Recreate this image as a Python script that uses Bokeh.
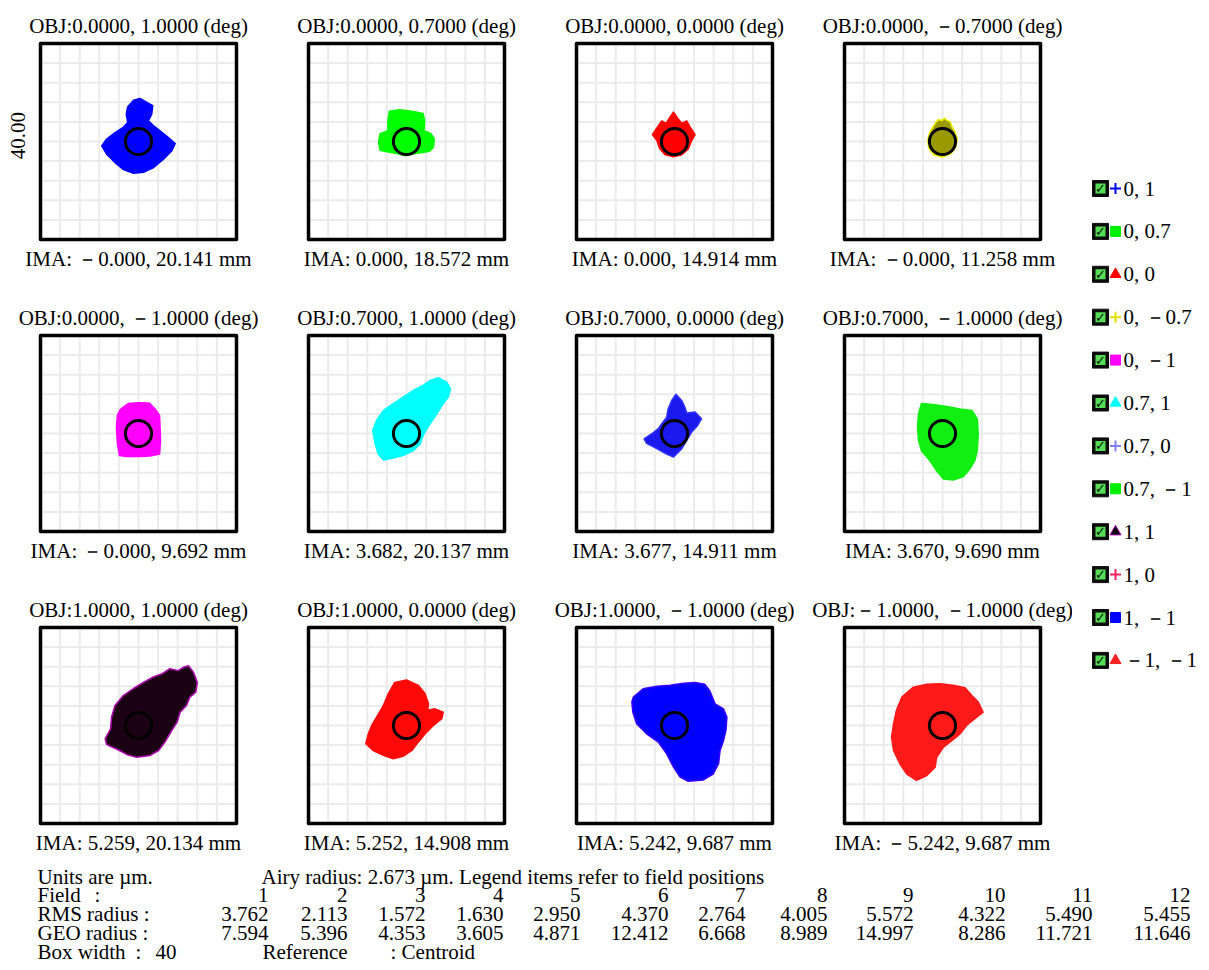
import math
from bokeh.plotting import figure
from bokeh.layouts import row, column
from bokeh.models import Range1d
from bokeh.core.properties import value
from bokeh.embed import file_html
from bokeh.resources import INLINE

# ---------------- data ----------------
field_names = ["0, 1", "0, 0.7", "0, 0", "0, －0.7", "0, －1", "0.7, 1",
               "0.7, 0", "0.7, －1", "1, 1", "1, 0", "1, －1", "－1, －1"]
obj_titles = ["OBJ:0.0000, 1.0000 (deg)", "OBJ:0.0000, 0.7000 (deg)",
              "OBJ:0.0000, 0.0000 (deg)", "OBJ:0.0000, －0.7000 (deg)",
              "OBJ:0.0000, －1.0000 (deg)", "OBJ:0.7000, 1.0000 (deg)",
              "OBJ:0.7000, 0.0000 (deg)", "OBJ:0.7000, －1.0000 (deg)",
              "OBJ:1.0000, 1.0000 (deg)", "OBJ:1.0000, 0.0000 (deg)",
              "OBJ:1.0000, －1.0000 (deg)", "OBJ:－1.0000, －1.0000 (deg)"]
ima_labels = ["IMA: －0.000, 20.141 mm", "IMA: 0.000, 18.572 mm",
              "IMA: 0.000, 14.914 mm", "IMA: －0.000, 11.258 mm",
              "IMA: －0.000, 9.692 mm", "IMA: 3.682, 20.137 mm",
              "IMA: 3.677, 14.911 mm", "IMA: 3.670, 9.690 mm",
              "IMA: 5.259, 20.134 mm", "IMA: 5.252, 14.908 mm",
              "IMA: 5.242, 9.687 mm", "IMA: －5.242, 9.687 mm"]
rms_radius = [3.762, 2.113, 1.572, 1.630, 2.950, 4.370, 2.764, 4.005, 5.572, 4.322, 5.490, 5.455]
geo_radius = [7.594, 5.396, 4.353, 3.605, 4.871, 12.412, 6.668, 8.989, 14.997, 8.286, 11.721, 11.646]
airy_radius = 2.673
box_width = 40

# spot outlines (um, relative to centroid)
spot1_x = [-1.0, 0.3, 1.7, 2.9, 2.7, 2.0, 3.1, 4.4, 6.1, 7.5, 6.8, 5.1, 3.1, 1.0, -1.0, -3.1, -4.8, -6.5, -7.5, -6.5, -4.8, -3.1, -2.2, -2.5, -2.2]
spot1_y = [8.4, 8.8, 8.0, 7.3, 5.6, 4.2, 3.2, 2.2, 0.8, -0.4, -1.9, -3.6, -5.3, -6.3, -6.5, -5.7, -4.3, -2.6, -0.9, 0.5, 1.8, 2.9, 3.9, 5.6, 7.1]
spot2_x = [-3.5, -1.5, 0.4, 1.9, 3.4, 3.7, 3.6, 5.0, 5.7, 5.5, 4.7, 3.0, 1.3, -0.1, -1.8, -3.5, -5.4, -5.7, -5.4, -3.8, -3.8]
spot2_y = [6.2, 6.5, 6.3, 6.0, 5.7, 4.3, 2.2, 1.6, 0.5, -1.2, -2.0, -2.3, -2.5, -2.9, -2.5, -2.2, -1.8, -0.1, 1.6, 2.2, 4.3]
spot3_x = [-0.2, 0.6, 1.5, 2.5, 3.2, 4.2, 3.5, 2.8, 1.5, -0.2, -1.9, -3.0, -3.6, -4.5, -3.5, -2.6, -1.7, -0.9]
spot3_y = [6.0, 4.8, 3.7, 4.2, 2.9, 1.4, 0.2, -1.5, -2.7, -3.1, -2.7, -1.5, 0.2, 1.4, 2.9, 4.2, 3.7, 5.0]
spot4_x = [-1.3, -0.8, -0.1, 0.4, 0.9, 1.6, 1.9, 2.6, 3.0, 2.7, 1.7, 0.0, -1.8, -2.8, -3.0, -2.6, -1.9]
spot4_y = [4.0, 4.5, 4.3, 4.8, 4.3, 4.0, 3.1, 1.9, 0.5, -1.2, -2.5, -3.2, -2.7, -1.4, 0.2, 1.9, 3.1]
spot5_x = [-3.1, -2.1, 0.0, 2.2, 3.4, 4.3, 4.4, 4.5, 4.3, 2.4, 0.0, -2.4, -3.9, -4.3, -4.5, -4.3, -3.8]
spot5_y = [5.4, 6.1, 6.3, 6.2, 5.0, 3.7, 1.3, -1.4, -4.2, -4.6, -4.7, -4.7, -4.5, -2.1, 1.3, 3.7, 4.8]
spot6_x = [6.5, 8.2, 9.0, 8.5, 7.5, 6.2, 4.8, 3.4, 2.8, 1.4, -0.7, -2.7, -4.7, -5.8, -6.4, -6.9, -6.1, -4.7, -2.7, -0.7, 1.4, 3.4, 4.8]
spot6_y = [11.4, 10.5, 9.1, 7.4, 6.1, 4.0, 2.0, -0.4, -2.1, -3.5, -4.5, -5.0, -5.4, -4.2, -2.1, 0.6, 2.7, 4.7, 6.1, 7.4, 8.8, 9.8, 10.8]
spot7_x = [0.3, 1.5, 2.1, 2.5, 4.2, 5.5, 4.7, 3.5, 2.5, 1.5, -0.2, -1.6, -3.6, -5.7, -6.2, -4.7, -3.3, -2.6, -1.6, -1.3, -0.6]
spot7_y = [8.0, 6.7, 5.4, 4.2, 4.4, 3.0, 1.6, 0.3, -1.4, -3.1, -4.8, -4.2, -3.1, -2.0, -1.1, -0.1, 1.0, 2.0, 3.3, 5.0, 6.7]
spot8_x = [-4.3, -1.9, 0.9, 3.6, 6.0, 7.1, 7.3, 7.1, 6.6, 5.6, 4.3, 2.2, 0.2, -1.2, -2.6, -4.3, -4.9, -5.1, -4.9]
spot8_y = [6.1, 5.9, 5.5, 5.0, 4.7, 3.0, -0.1, -3.5, -5.5, -7.2, -8.8, -9.5, -9.3, -7.6, -5.5, -3.5, -1.4, 1.3, 4.0]
spot9_x = [10.2, 11.2, 12.0, 11.7, 10.5, 9.8, 8.5, 7.9, 6.8, 5.4, 4.1, 2.4, -0.4, -2.4, -4.5, -6.5, -6.8, -5.7, -5.5, -4.8, -3.1, -1.1, 1.0, 3.0, 4.7, 6.4, 8.1, 9.2]
spot9_y = [12.2, 10.9, 8.8, 6.8, 5.8, 4.1, 2.7, 0.7, -1.0, -3.4, -5.1, -6.1, -6.5, -5.9, -4.8, -3.9, -2.7, -0.7, 1.7, 4.1, 6.1, 7.5, 8.8, 9.9, 10.5, 11.6, 11.2, 11.9]
spot10_x = [-2.4, 0.0, 2.4, 3.8, 4.5, 4.3, 5.8, 7.5, 7.2, 5.5, 3.8, 2.4, 1.1, -0.7, -2.7, -4.7, -6.8, -8.3, -7.8, -7.1, -6.1, -4.7, -3.7]
spot10_y = [8.8, 9.3, 8.2, 6.5, 4.4, 3.1, 3.4, 2.7, 1.4, 0.0, -1.7, -3.4, -5.1, -6.3, -6.8, -6.1, -5.1, -3.7, -1.7, 0.0, 1.7, 4.1, 6.5]
spot11_x = [-8.4, -6.4, -3.6, -0.9, 1.8, 4.2, 6.2, 7.2, 8.3, 10.0, 10.7, 10.5, 10.0, 9.3, 9.0, 7.9, 5.9, 2.8, 1.1, -0.2, -1.6, -3.3, -5.7, -7.7, -8.5, -8.7]
spot11_y = [5.8, 7.5, 8.0, 8.2, 8.6, 8.8, 8.4, 7.1, 4.4, 3.4, 1.7, -1.0, -3.1, -5.1, -7.8, -9.9, -11.1, -11.4, -10.5, -8.5, -5.8, -3.4, -1.7, 0.3, 2.7, 4.8]
spot12_x = [-6.0, -3.2, -0.5, 2.2, 4.6, 6.0, 7.3, 8.3, 6.6, 4.9, 3.6, 1.9, 0.2, -1.2, -1.5, -3.2, -5.3, -7.3, -8.7, -10.0, -10.4, -10.0, -9.4, -8.3]
spot12_y = [7.8, 8.4, 8.5, 8.2, 7.7, 6.1, 4.8, 2.7, 1.4, 0.0, -1.7, -3.1, -4.4, -6.5, -8.5, -10.2, -11.2, -9.9, -7.8, -5.1, -2.4, 0.3, 3.1, 5.8]

spots_x = [spot1_x, spot2_x, spot3_x, spot4_x, spot5_x, spot6_x,
           spot7_x, spot8_x, spot9_x, spot10_x, spot11_x, spot12_x]
spots_y = [spot1_y, spot2_y, spot3_y, spot4_y, spot5_y, spot6_y,
           spot7_y, spot8_y, spot9_y, spot10_y, spot11_y, spot12_y]

spot_fill = ["#0000ff", "#00ff00", "#ff0000", "#9a9a00", "#ff00ff", "#00ffff",
             "#1a1aee", "#11ee11", "#1c0014", "#ff0808", "#0000ff", "#ff1a1a"]
spot_edge = ["#0000ff", "#00ff00", "#ff0000", "#f0f000", "#ff00ff", "#00ffff",
             "#3030ff", "#11ee11", "#b000b0", "#ff0808", "#3a00ff", "#ff1a1a"]
legend_marker = ["cross", "square", "triangle", "cross", "square", "triangle",
                 "cross", "square", "triangle", "cross", "square", "triangle"]
legend_color = ["#0000ff", "#00ee00", "#ff0000", "#e0e000", "#ff00ff", "#00ffff",
                "#8080ff", "#00ee00", "#000000", "#ff2060", "#0000ff", "#ff2020"]
legend_edge = ["#0000ff", "#00ee00", "#ff0000", "#e0e000", "#ff00ff", "#00ffff",
               "#8080ff", "#00ee00", "#b000b0", "#ff2060", "#0000ff", "#ff2020"]

SERIF = "Liberation Serif"
FS = "21px"
PX = 196 / box_width          # pixels per micron inside a box
HB = box_width / 2

# ---------------- panels ----------------
grid_ticks = [-HB + k * box_width / 10 for k in range(1, 10)]
ng = len(grid_ticks)
PW = 268
LEFT, RIGHT_, TOP = 40, 32, 43
rows = []
for r in range(3):
    h = 292 if r < 2 else 282
    bottom = h - TOP - 196
    figs = []
    for c in range(4):
        i = r * 4 + c
        p = figure(width=PW, height=h,
                   x_range=Range1d(-HB - LEFT / PX, HB + RIGHT_ / PX),
                   y_range=Range1d(-HB - bottom / PX, HB + TOP / PX),
                   output_backend="svg", toolbar_location=None, tools="", title=None,
                   x_axis_location=None, y_axis_location=None,
                   min_border_left=0, min_border_right=0,
                   min_border_top=0, min_border_bottom=0)
        p.grid.visible = False
        p.outline_line_color = None
        p.background_fill_color = "white"
        p.border_fill_color = "white"
        # grid inside the box
        p.segment(x0=grid_ticks, y0=[-HB] * ng, x1=grid_ticks, y1=[HB] * ng,
                  line_color="#ebebeb", line_width=2)
        p.segment(x0=[-HB] * ng, y0=grid_ticks, x1=[HB] * ng, y1=grid_ticks,
                  line_color="#ebebeb", line_width=2)
        p.patch(x=spots_x[i], y=spots_y[i], fill_color=spot_fill[i],
                line_color=spot_edge[i], line_width=1.5, line_join="round")
        p.circle(x=[0], y=[0], radius=airy_radius, fill_color=None,
                 line_color="black", line_width=3)
        p.rect(x=[0], y=[0], width=[box_width], height=[box_width], fill_color=None,
               line_color="black", line_width=3.5, line_join="round")
        p.text(x=[0], y=[HB + 18 / PX], text=[obj_titles[i]], text_font=value(SERIF),
               text_font_size=FS, text_align="center", text_baseline="alphabetic",
               text_color="black")
        p.text(x=[0], y=[-HB - 19 / PX], text=[ima_labels[i]], text_font=value(SERIF),
               text_font_size=FS, text_align="center", text_baseline="alphabetic",
               text_color="black")
        if i == 0:
            p.text(x=[-HB - 22.5 / PX], y=[6 / PX], text=[f"{box_width:.2f}"],
                   angle=math.pi / 2, text_font=value(SERIF), text_font_size=FS,
                   text_align="center", text_baseline="middle", text_color="black")
        figs.append(p)
    rows.append(row(*figs))
panels = column(*rows)

# ---------------- legend ----------------
n = len(field_names)
idx = list(range(n))
lg = figure(width=137, height=866, x_range=Range1d(0, 137),
            y_range=Range1d((866 - 188) / 42.9, -188 / 42.9),
            output_backend="svg", toolbar_location=None, tools="", title=None,
            x_axis_location=None, y_axis_location=None,
            min_border_left=0, min_border_right=0, min_border_top=0, min_border_bottom=0)
lg.grid.visible = False
lg.outline_line_color = None
lg.scatter(x=[28] * n, y=idx, marker="square", size=16, fill_color="#0d0d0d", line_color="#0d0d0d")
lg.scatter(x=[28] * n, y=idx, marker="square", size=10, fill_color="#55dd55", line_color=None)
lg.text(x=[28] * n, y=idx, text=["✓"] * n, text_font=value("DejaVu Sans"),
        text_font_size="13px", text_align="center", text_baseline="middle",
        text_color="#0d0d0d", text_font_style="bold")
for j in idx:
    mk = legend_marker[j]
    if mk == "cross":
        lg.scatter(x=[43], y=[j], marker="cross", size=11, line_color=legend_color[j], line_width=2)
    else:
        lg.scatter(x=[43], y=[j], marker=mk, size=11 if mk == "triangle" else 10,
                   fill_color=legend_color[j], line_color=legend_edge[j], line_width=1)
lg.text(x=[51] * n, y=idx, text=field_names, text_font=value(SERIF), text_font_size="21px",
        text_align="left", text_baseline="middle", text_color="black")

# ---------------- table ----------------
tb = figure(width=1209, height=104, x_range=Range1d(0, 1209),
            y_range=Range1d((104 - 10) / 18.75, -10 / 18.75),
            output_backend="svg", toolbar_location=None, tools="", title=None,
            x_axis_location=None, y_axis_location=None,
            min_border_left=0, min_border_right=0, min_border_top=0, min_border_bottom=0)
tb.grid.visible = False
tb.outline_line_color = None
col_right = [268, 347, 425, 503, 580, 668, 745, 827, 913, 1005, 1092, 1190]
TFS = "21px"


def tx(x, y, s, align="left"):
    tb.text(x=[x], y=[y], text=[s], text_font=value(SERIF), text_font_size=TFS,
            text_align=align, text_baseline="middle", text_color="black")


tx(37, 0, "Units are µm.")
tx(261, 0, f"Airy radius: {airy_radius:.3f} µm.  Legend items refer to field positions")
tx(37, 1, "Field")
tx(94, 1, ":")
tx(37, 2, "RMS radius :")
tx(37, 3, "GEO radius :")
tx(37, 4, "Box width")
tx(135, 4, ":")
tx(155, 4, f"{box_width}")
tx(262, 4, "Reference")
tx(390, 4, ": Centroid")
tb.text(x=col_right, y=[1] * n, text=[str(k + 1) for k in idx], text_font=value(SERIF),
        text_font_size=TFS, text_align="right", text_baseline="middle", text_color="black")
tb.text(x=col_right, y=[2] * n, text=[f"{v:.3f}" for v in rms_radius], text_font=value(SERIF),
        text_font_size=TFS, text_align="right", text_baseline="middle", text_color="black")
tb.text(x=col_right, y=[3] * n, text=[f"{v:.3f}" for v in geo_radius], text_font=value(SERIF),
        text_font_size=TFS, text_align="right", text_baseline="middle", text_color="black")

layout = column(row(panels, lg), tb)
open("out.html", "w").write(file_html(layout, INLINE))
